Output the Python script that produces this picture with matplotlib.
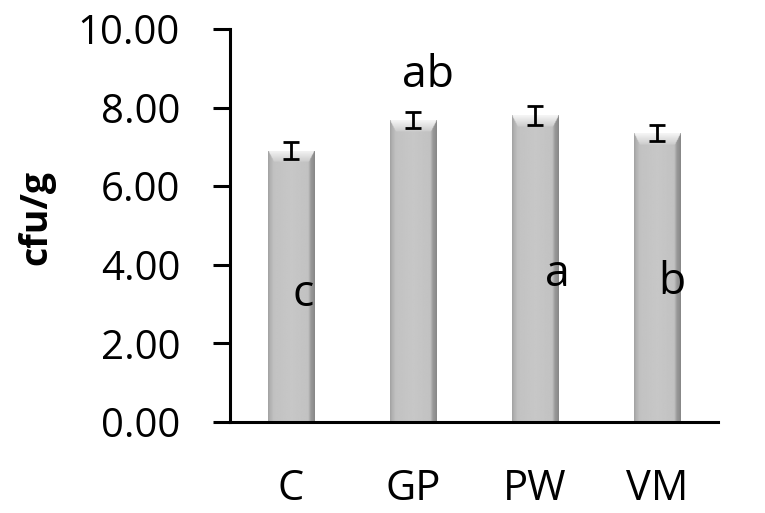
import numpy as np
import matplotlib
matplotlib.use("Agg")
import matplotlib.pyplot as plt

categories = ["C", "GP", "PW", "VM"]
values = [6.90, 7.68, 7.80, 7.35]
errors = [0.22, 0.20, 0.23, 0.20]
letters = ["c", "ab", "a", "b"]
letter_x = [0.10, 1.12, 2.18, 3.12]
letter_y = [3.23, 8.80, 3.74, 3.54]
yticks = [0, 2, 4, 6, 8, 10]

plt.rcParams['font.family'] = ['Open Sans', 'DejaVu Sans']

fig = plt.figure(figsize=(7.65, 5.13), dpi=100)
ax = fig.add_axes([0.3007, 0.1774, 0.638, 0.766])

x = np.arange(len(categories))
width = 0.385
bars = ax.bar(x, values, width=width, color="#c4c4c4", edgecolor="none", zorder=2)

# gradient shading for each bar (grey levels 0..1)
nx, ny = 80, 400
u = np.linspace(0, 1, nx)
prof = np.interp(u, [0, 0.05, 0.12, 0.5, 0.86, 0.92, 1.0],
                 [0.64, 0.70, 0.76, 0.78, 0.76, 0.60, 0.53])
for b in bars:
    x0, w, h = b.get_x(), b.get_width(), b.get_height()
    img = np.tile(prof, (ny, 1))
    v = np.linspace(0, h, ny)  # distance from top in data units
    bevel = 0.28
    for i, d in enumerate(v):
        if d < bevel:
            t = d / bevel
            inner = (u > 0.12 * t) & (u < 1 - 0.12 * t)
            img[i, inner] = 0.96 - 0.16 * t
    im = ax.imshow(img, cmap="gray", vmin=0, vmax=1, aspect="auto",
                   extent=[x0, x0 + w, 0, h], origin="upper", zorder=2.5,
                   interpolation="bilinear")
    im.set_clip_path(b)

ax.errorbar(x, values, yerr=errors, fmt="none", ecolor="black",
            elinewidth=2, capsize=6, capthick=2, zorder=4)

for lx, ly, t in zip(letter_x, letter_y, letters):
    ax.text(lx, ly, t, ha="center", va="center", fontsize=32, color="black", zorder=5)

ax.set_xlim(-0.5, 3.5)
ax.set_ylim(0, 10)
ax.set_yticks(yticks)
ax.set_yticklabels([f"{t:.2f}" for t in yticks], fontsize=29)
ax.set_xticks(x)
ax.set_xticklabels(categories, fontsize=30)
ax.tick_params(axis="x", length=0, pad=33)
ax.tick_params(axis="y", length=12, width=2.2, pad=24, direction="out")
ax.spines["top"].set_visible(False)
ax.spines["right"].set_visible(False)
for s in ["left", "bottom"]:
    ax.spines[s].set_linewidth(2.2)
ax.set_ylabel("cfu/g", fontsize=27, fontweight="bold")
ax.yaxis.set_label_coords(-0.358, 0.52)

fig.savefig("out.png", dpi=100)
